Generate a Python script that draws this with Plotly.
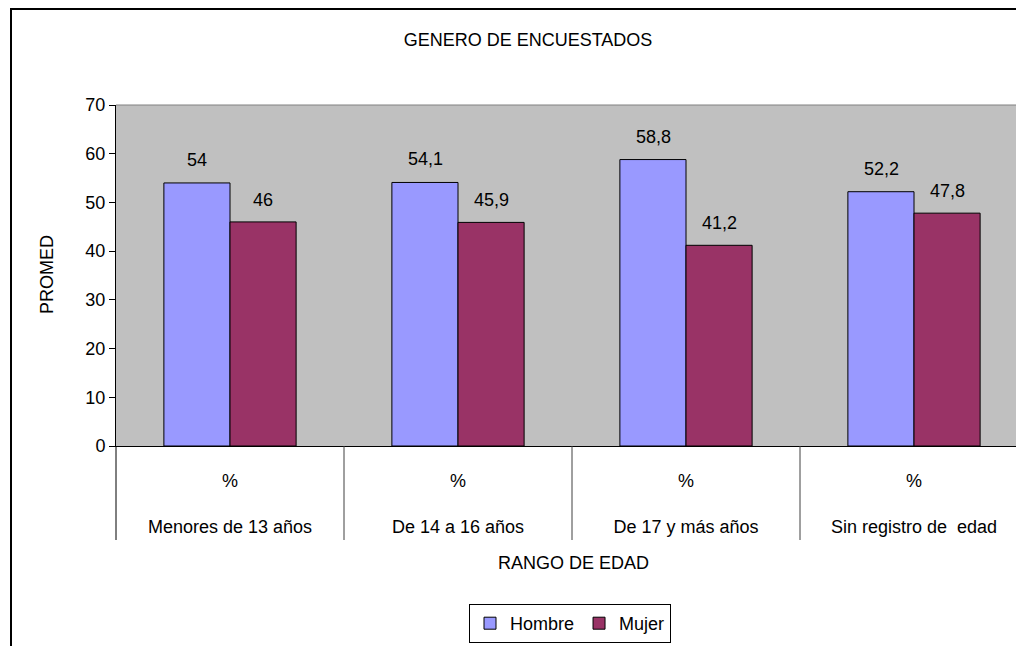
import plotly.graph_objects as go

categories = ["Menores de 13 años", "De 14 a 16 años", "De 17 y más años", "Sin registro de  edad"]
sub_label = "%"
hombre = [54, 54.1, 58.8, 52.2]
mujer = [46, 45.9, 41.2, 47.8]
hombre_lbl = ["54", "54,1", "58,8", "52,2"]
mujer_lbl = ["46", "45,9", "41,2", "47,8"]
y_ticks = [0, 10, 20, 30, 40, 50, 60, 70]

FONT = "Liberation Sans, Arial, sans-serif"
OFF = 8  # page body margin offset
W, H = 1024 - OFF, 646 - OFF
L, T = 116 - OFF, 105 - OFF
R = 0
B = H - (446 - OFF)
pw, ph = W - L - R, H - T - B

def px_x(px):
    # px given in reference screen coordinates
    return (px - OFF - L) / pw

def px_y(py):
    return (H - B - (py - OFF)) / ph

fig = go.Figure()
fig.add_trace(go.Bar(name="Hombre", x=categories, y=hombre,
                     marker=dict(color="#9999FF", line=dict(color="black", width=1))))
fig.add_trace(go.Bar(name="Mujer", x=categories, y=mujer,
                     marker=dict(color="#993366", line=dict(color="black", width=1))))

annotations = []
for c, v, t in zip(categories, hombre, hombre_lbl):
    annotations.append(dict(x=c, y=v, xref="x", yref="y", text=t, showarrow=False,
                            xshift=-33, yshift=23, yanchor="middle",
                            font=dict(family=FONT, size=18, color="black")))
for c, v, t in zip(categories, mujer, mujer_lbl):
    annotations.append(dict(x=c, y=v, xref="x", yref="y", text=t, showarrow=False,
                            xshift=33, yshift=22, yanchor="middle",
                            font=dict(family=FONT, size=18, color="black")))

annotations.append(dict(x=px_x(573), y=px_y(563), xref="paper", yref="paper",
                        text="RANGO DE EDAD", showarrow=False, xanchor="center", yanchor="middle",
                        font=dict(family=FONT, size=18, color="black")))
annotations.append(dict(x=px_x(47), y=px_y(275), xref="paper", yref="paper",
                        text="PROMED", showarrow=False, textangle=-90,
                        xanchor="center", yanchor="middle",
                        font=dict(family=FONT, size=18, color="black")))

shapes = []
# outer chart border (top edge kept just inside the figure)
shapes.append(dict(type="rect", xref="paper", yref="paper",
                   x0=px_x(11), y0=px_y(OFF + 1), x1=px_x(1060), y1=px_y(700),
                   line=dict(color="black", width=2), layer="below"))
# top border of plot area
shapes.append(dict(type="line", xref="paper", yref="paper",
                   x0=0, x1=1.1, y0=1, y1=1, line=dict(color="#808080", width=1)))
# category dividers below axis
shapes.append(dict(type="line", xref="paper", yref="paper",
                   x0=0, x1=0, y0=0, y1=px_y(540), line=dict(color="black", width=1)))
for i in range(1, len(categories)):
    shapes.append(dict(type="line", xref="x", yref="paper",
                       x0=i - 0.5, x1=i - 0.5, y0=0, y1=px_y(540),
                       line=dict(color="#404040", width=1)))

fig.update_layout(
    width=W, height=H,
    margin=dict(l=L, r=R, t=T, b=B, pad=0),
    paper_bgcolor="white",
    plot_bgcolor="#C0C0C0",
    barmode="group",
    bargap=0.42,
    bargroupgap=0,
    font=dict(family=FONT, size=18, color="black"),
    title=dict(text="GENERO DE ENCUESTADOS", x=(528 - OFF) / W, xref="container", xanchor="center",
               y=1 - (40 - OFF) / H, yref="container", yanchor="middle",
               font=dict(family=FONT, size=18, color="black")),
    xaxis=dict(
        type="category",
        range=[-0.5, -0.5 + pw / 228],
        tickmode="array",
        tickvals=categories,
        ticktext=[sub_label + "<br><br>" + c for c in categories],
        ticks="",
        ticklabelstandoff=18,
        showline=True, linecolor="black", linewidth=1,
        showgrid=False, zeroline=False,
        tickfont=dict(family=FONT, size=18, color="black"),
    ),
    yaxis=dict(
        range=[0, 70],
        tickmode="array",
        tickvals=y_ticks,
        ticks="outside", ticklen=6, tickcolor="black", tickwidth=1,
        showline=True, linecolor="black", linewidth=1,
        showgrid=False, zeroline=False,
        tickfont=dict(family=FONT, size=18, color="black"),
    ),
    legend=dict(
        orientation="h", x=px_x(570), xanchor="center", y=px_y(604), yanchor="top",
        bordercolor="black", borderwidth=1, bgcolor="white",
        font=dict(family=FONT, size=18, color="black"),
        itemwidth=30, tracegroupgap=0,
    ),
    annotations=annotations,
    shapes=shapes,
)

fig.write_html("out.html")
